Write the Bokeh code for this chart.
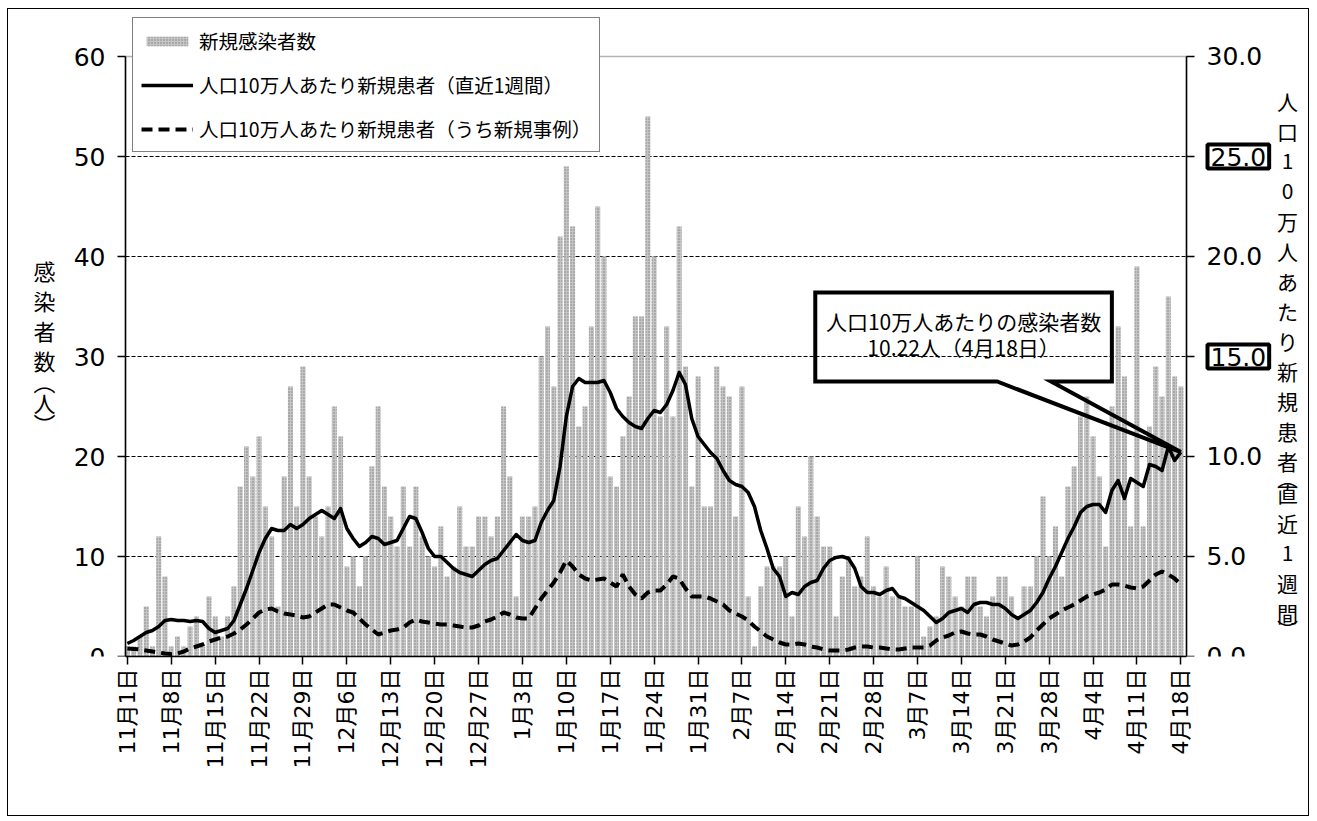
import math
from bokeh.plotting import figure
from bokeh.models import (ColumnDataSource, Range1d, LinearAxis, FixedTicker, Legend,
                          LegendItem, Label, NumeralTickFormatter, BoxAnnotation)
from bokeh.embed import file_html
from bokeh.resources import INLINE

# ---------------- data ----------------
# daily new cases, 11/1 .. 4/18
new_cases = [
    1, 1, 2, 5, 1, 12, 8, 1, 2, 1,
    3, 4, 1, 6, 4, 2, 4, 7, 17, 21,
    18, 22, 15, 12, 5, 18, 27, 15, 29, 18,
    14, 12, 15, 25, 22, 9, 10, 7, 10, 19,
    25, 17, 14, 11, 17, 11, 17, 12, 10, 9,
    13, 8, 9, 15, 11, 11, 14, 14, 12, 14,
    25, 18, 6, 14, 14, 15, 30, 33, 27, 42,
    49, 43, 23, 25, 33, 45, 40, 18, 17, 22,
    26, 34, 34, 54, 40, 24, 33, 24, 43, 29,
    17, 28, 15, 15, 29, 27, 26, 14, 27, 6,
    1, 7, 9, 9, 9, 10, 4, 15, 12, 20,
    14, 11, 11, 4, 8, 10, 7, 8, 12, 7,
    6, 9, 6, 6, 5, 5, 10, 2, 3, 4,
    9, 8, 6, 5, 8, 8, 5, 4, 6, 8,
    8, 6, 4, 7, 7, 10, 16, 10, 13, 8,
    17, 19, 24, 26, 22, 18, 11, 25, 33, 28,
    13, 39, 13, 23, 29, 26, 36, 28, 27,
]
# per 100k population, last 7 days (right axis)
rate_week = [
    0.65, 0.8, 1.0, 1.2, 1.3, 1.5, 1.8, 1.85, 1.8, 1.8,
    1.75, 1.8, 1.75, 1.4, 1.2, 1.3, 1.4, 1.8, 2.6, 3.4,
    4.3, 5.2, 5.9, 6.4, 6.3, 6.3, 6.6, 6.4, 6.6, 6.9,
    7.1, 7.3, 7.1, 6.9, 7.4, 6.4, 5.9, 5.5, 5.7, 6.0,
    5.9, 5.6, 5.7, 5.8, 6.4, 7.0, 6.9, 6.2, 5.4, 5.0,
    5.0, 4.7, 4.4, 4.2, 4.1, 4.0, 4.3, 4.6, 4.8, 4.9,
    5.3, 5.7, 6.1, 5.8, 5.7, 5.8, 6.7, 7.3, 7.8, 9.5,
    12.0, 13.5, 13.9, 13.7, 13.7, 13.7, 13.8, 13.2, 12.4, 12.0,
    11.7, 11.5, 11.4, 11.9, 12.3, 12.2, 12.6, 13.3, 14.2, 13.6,
    11.9, 11.0, 10.6, 10.2, 9.9, 9.3, 8.8, 8.6, 8.5, 8.2,
    7.5, 6.3, 5.4, 4.4, 4.0, 3.0, 3.2, 3.1, 3.5, 3.7,
    3.8, 4.4, 4.8, 4.95, 5.0, 4.9, 4.4, 3.5, 3.2, 3.2,
    3.1, 3.3, 3.4, 3.0, 2.9, 2.7, 2.5, 2.3, 2.0, 1.7,
    1.9, 2.2, 2.3, 2.4, 2.2, 2.6, 2.7, 2.7, 2.6, 2.6,
    2.4, 2.1, 1.9, 2.1, 2.3, 2.7, 3.2, 3.9, 4.5, 5.2,
    5.9, 6.5, 7.2, 7.5, 7.6, 7.6, 7.2, 8.3, 8.8, 7.9,
    8.9, 8.7, 8.5, 9.6, 9.5, 9.3, 10.5, 9.8, 10.22,
]
# per 100k population, new cases without known link (right axis)
rate_new = [
    0.4, 0.38, 0.35, 0.3, 0.25, 0.2, 0.15, 0.12, 0.15, 0.25,
    0.4, 0.5, 0.6, 0.75, 0.85, 0.95, 1.0, 1.15, 1.35, 1.6,
    1.9, 2.2, 2.35, 2.4, 2.25, 2.15, 2.1, 2.05, 1.95, 2.0,
    2.2, 2.4, 2.6, 2.6, 2.45, 2.3, 2.2, 1.9, 1.6, 1.35,
    1.1, 1.2, 1.3, 1.35, 1.45, 1.7, 1.85, 1.75, 1.7, 1.65,
    1.6, 1.6, 1.55, 1.5, 1.45, 1.45, 1.55, 1.75, 1.85, 2.0,
    2.2, 2.1, 1.95, 1.9, 1.9, 2.4, 2.9, 3.3, 3.7, 4.2,
    4.8, 4.5, 4.1, 3.9, 3.8, 3.85, 3.9, 3.7, 3.5, 4.1,
    3.5, 3.1, 2.9, 3.2, 3.3, 3.3, 3.6, 4.0, 3.9, 3.4,
    3.0, 3.0, 3.0, 2.9, 2.75, 2.6, 2.3, 2.15, 2.0, 1.8,
    1.5, 1.25, 1.0, 0.85, 0.7, 0.6, 0.6, 0.65, 0.6, 0.5,
    0.45, 0.35, 0.3, 0.3, 0.3, 0.35, 0.45, 0.5, 0.5, 0.45,
    0.45, 0.4, 0.35, 0.35, 0.4, 0.45, 0.45, 0.45, 0.55, 0.8,
    0.95, 1.05, 1.2, 1.25, 1.15, 1.1, 1.1, 1.0, 0.85, 0.75,
    0.65, 0.55, 0.6, 0.75, 0.95, 1.3, 1.6, 1.9, 2.1, 2.3,
    2.45, 2.6, 2.8, 3.0, 3.1, 3.2, 3.35, 3.6, 3.6, 3.55,
    3.45, 3.4, 3.5, 3.8, 4.1, 4.25, 4.1, 3.9, 3.6,
]
tick_labels = ["11月1日", "11月8日", "11月15日", "11月22日", "11月29日", "12月6日",
               "12月13日", "12月20日", "12月27日", "1月3日", "1月10日", "1月17日",
               "1月24日", "1月31日", "2月7日", "2月14日", "2月21日", "2月28日",
               "3月7日", "3月14日", "3月21日", "3月28日", "4月4日", "4月11日", "4月18日"]
left_ticks = [0, 10, 20, 30, 40, 50, 60]
right_ticks = [0, 5, 10, 15, 20, 25, 30]
grid_levels = [10, 20, 30, 40, 50]
boxed_right_ticks = [25, 15]
legend_labels = ["新規感染者数",
                 "人口10万人あたり新規患者（直近1週間）",
                 "人口10万人あたり新規患者（うち新規事例）"]
left_title = "感染者数（人）"
right_title = "人口10万人あたり新規患者（直近1週間）"
callout_title = "人口10万人あたりの感染者数"
callout_date = "4月18日"

# ---------------- layout ----------------
N = len(new_cases)
day = list(range(N))
tick_days = list(range(0, N, 7))
YMAX_L, YMAX_R = left_ticks[-1], right_ticks[-1]

W, H = 1302, 808                 # canvas (page offset ~ (9, 10))
OX, OY = 9, 10
PA_L, PA_R, PA_B = 126, 1187, 657   # plot area edges, page px
XA0, XA1 = -0.3, N - 0.1           # days at plot area edges
PPD = (PA_R - PA_L) / (XA1 - XA0)
PPU = 10.0                         # px per left-axis unit
x_start = XA0 - (PA_L - OX) / PPD
x_end = XA1 + (OX + W - PA_R) / PPD
y_top = (PA_B - OY) / PPU
FB = H - (PA_B - OY)

JP = "Noto Sans CJK JP"
NUM = "DejaVu Sans, Noto Sans CJK JP"

src = ColumnDataSource(dict(day=day, cases=new_cases, week=rate_week, new=rate_new))

p = figure(width=W, height=H, output_backend="svg", toolbar_location=None,
           x_range=Range1d(x_start, x_end), y_range=Range1d(0, y_top),
           min_border_left=0, min_border_right=0, min_border_top=0, min_border_bottom=FB,
           background_fill_color="white", border_fill_color="white")
p.extra_y_ranges = {"right": Range1d(0, y_top * YMAX_R / YMAX_L)}
p.styles = {"border": "1.5px solid black", "margin": "8px 0 0 7px"}
p.outline_line_color = None
p.xgrid.visible = False
p.ygrid.visible = False

# dashed horizontal gridlines, only inside the plot area
p.segment(x0=[XA0] * len(grid_levels), x1=[XA1] * len(grid_levels),
          y0=grid_levels, y1=grid_levels, line_color="black", line_width=1,
          line_dash="4 2")

bars = p.vbar(x="day", top="cases", width=0.8, source=src,
              fill_color="#c4c4c4", line_color=None,
              hatch_pattern="dot", hatch_color="#808080", hatch_scale=3, hatch_weight=1)
l_week = p.line("day", "week", source=src, y_range_name="right",
                line_color="black", line_width=3.5, line_join="round")
l_new = p.line("day", "new", source=src, y_range_name="right",
               line_color="black", line_width=4, line_dash="11 6")

# plot-area border
p.add_layout(BoxAnnotation(left=XA0, right=XA1, bottom=0, top=YMAX_L,
                           fill_alpha=0, line_color="black", line_width=1.5))

# axes
xa = p.xaxis[0]
xa.ticker = FixedTicker(ticks=tick_days)
xa.bounds = (XA0, XA1)
xa.major_label_overrides = {d: t for d, t in zip(tick_days, tick_labels)}
xa.major_label_orientation = math.pi / 2
xa.major_label_text_font = NUM
xa.major_label_text_font_size = "22px"
xa.major_label_text_color = "black"
xa.major_tick_out = 8
xa.major_tick_in = 0
xa.minor_tick_line_color = None
xa.axis_line_width = 1.5
xa.major_tick_line_width = 1.5
xa.major_label_standoff = 4

ya = p.yaxis[0]
ya.fixed_location = XA0
ya.bounds = (0, YMAX_L)
ya.ticker = FixedTicker(ticks=left_ticks)
ya.major_label_text_font = "DejaVu Sans"
ya.major_label_text_font_size = "25px"
ya.major_label_text_color = "black"
ya.major_tick_out = 8
ya.major_tick_in = 0
ya.minor_tick_line_color = None
ya.axis_line_width = 1.5
ya.major_tick_line_width = 1.5
ya.major_label_standoff = 12

ra = LinearAxis(y_range_name="right", ticker=FixedTicker(ticks=right_ticks),
                formatter=NumeralTickFormatter(format="0.0"),
                fixed_location=XA1, bounds=(0, YMAX_R))
ra.major_label_overrides = {t: " " for t in boxed_right_ticks}
ra.major_label_text_font = "DejaVu Sans"
ra.major_label_text_font_size = "25px"
ra.major_label_text_color = "black"
ra.major_tick_out = 8
ra.major_tick_in = 0
ra.minor_tick_line_color = None
ra.axis_line_width = 1.5
ra.major_tick_line_width = 1.5
ra.major_label_standoff = 12
p.add_layout(ra, "right")

# boxed right tick labels
for t in boxed_right_ticks:
    p.add_layout(Label(x=XA1, x_offset=21, y=t, y_range_name="right",
                       text=f"{t:.1f}", text_align="left", text_baseline="middle",
                       text_font="DejaVu Sans", text_font_size="25px", text_color="black",
                       border_line_color="black", border_line_width=4, padding=3,
                       background_fill_color="white"))

# stacked (vertical) axis titles; brackets use the vertical presentation forms
VERT = {"（": "︵", "）": "︶"}


def stack(text, y0, step, half):
    ys, y, prev = [], y0, None
    for i, ch in enumerate(text):
        if i > 0:
            y += half if (ch in VERT or prev in VERT) else step
        ys.append(y)
        prev = ch
    return ys


def vertical_title(text, x_page, y0, step, half, size):
    for ch, yy in zip(text, stack(text, y0, step, half)):
        p.add_layout(Label(x=x_page - OX, y=PA_B - yy, x_units="screen", y_units="screen",
                           text=VERT.get(ch, ch),
                           text_align="center", text_baseline="middle",
                           text_font=JP, text_font_size=size, text_color="black"))


vertical_title(left_title, 45, 270, 30, 21, "22px")
vertical_title(right_title, 1288, 101, 30, 16, "21px")

# callout for the latest value
tip_x, tip_y = day[-1], rate_week[-1]
bx0, bx1, by0, by1 = 109.7, 157.0, 13.75, 18.2
t0, t1 = 138.7, 147.3
p.patch([t0, bx0, bx0, bx1, bx1, t1, tip_x], [by0, by0, by1, by1, by0, by0, tip_y],
        y_range_name="right", fill_alpha=0, line_color="black", line_width=4,
        line_join="miter")
cx = (bx0 + bx1) / 2
p.add_layout(Label(x=cx, y=16.8, y_range_name="right", text=callout_title,
                   text_align="center", text_baseline="middle", text_font=JP,
                   text_font_size="21px", text_color="black"))
p.add_layout(Label(x=cx, y=15.5, y_range_name="right",
                   text=f"{rate_week[-1]:.2f}人（{callout_date}）",
                   text_align="center", text_baseline="middle", text_font=JP,
                   text_font_size="21px", text_color="black"))

# legend
legend = Legend(items=[LegendItem(label=legend_labels[0], renderers=[bars]),
                       LegendItem(label=legend_labels[1], renderers=[l_week]),
                       LegendItem(label=legend_labels[2], renderers=[l_new])],
                location=(133 - OX, PA_B - 153), orientation="vertical",
                label_text_font=JP, label_text_font_size="19.5px", label_text_color="black",
                border_line_color="black", border_line_width=1.5,
                background_fill_color="white", background_fill_alpha=1,
                padding=8, spacing=15, glyph_width=52, glyph_height=12,
                label_standoff=6, label_height=22, margin=0)
p.add_layout(legend, "center")

open("out.html", "w").write(file_html(p, INLINE))
